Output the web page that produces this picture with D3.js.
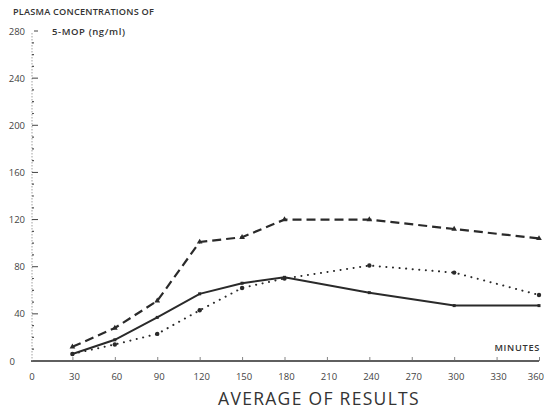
<!DOCTYPE html>
<html><head><meta charset="utf-8">
<script src="https://cdn.jsdelivr.net/npm/d3@7"></script>
<style>body{margin:0;background:#fff}svg{display:block}</style>
</head><body>
<svg id="c" width="544" height="410"></svg>
<script>
const minutes = [30, 60, 90, 120, 150, 180, 240, 300, 360];
const dashedSeries = [12, 28, 51, 101, 105, 120, 120, 112, 104];
const solidSeries = [6, 18, 37, 57, 66, 71, 58, 47, 47];
const dottedSeries = [6, 14, 23, 43, 62, 70, 81, 75, 56];
const xTicks = [0, 30, 60, 90, 120, 150, 180, 210, 240, 270, 300, 330, 360];
const yTicks = [0, 40, 80, 120, 160, 200, 240, 280];
const yMinorTicks = d3.range(0, 281, 10);

const svg = d3.select("#c");
const x = d3.scaleLinear().domain([0, 360]).range([30, 539]);
const y = d3.scaleLinear().domain([0, 280]).range([361, 31]);
const ink = "#2a2a2a";
const font = "'Open Sans', sans-serif";

// x axis
const xAxis = svg.append("g").attr("transform", `translate(0,${y(0)})`)
  .call(d3.axisTop(x).tickValues(xTicks).tickSize(4).tickFormat(""));
xAxis.select(".domain").attr("stroke", ink).attr("stroke-width", 1.6).attr("d", `M${x(0)+1},0H${x(360)}`);
xAxis.selectAll(".tick line").attr("stroke", "#666").attr("stroke-width", 0.8);
xAxis.selectAll(".tick").filter(d => d === 0).remove();
svg.append("g").selectAll("text").data(xTicks).join("text")
  .attr("x", d => d === 360 ? 544 : x(d) + 2).attr("y", 380)
  .attr("text-anchor", d => d === 360 ? "end" : "middle").attr("font-family", font).attr("font-size", 9.5)
  .attr("fill", "#444").text(d => d);

// y axis
const yAxisX = x(0) + 2;
svg.append("line").attr("x1", yAxisX).attr("x2", yAxisX).attr("y1", y(280) + 2).attr("y2", y(0))
  .attr("stroke", "#888").attr("stroke-width", 0.8).attr("stroke-dasharray", "1.5,1.5");
svg.append("g").selectAll("line").data(yMinorTicks.filter(d => d % 40 !== 0)).join("line")
  .attr("x1", yAxisX).attr("x2", yAxisX + 2).attr("y1", d => y(d)).attr("y2", d => y(d))
  .attr("stroke", "#555").attr("stroke-width", 1.2);
svg.append("g").selectAll("line").data(yTicks.filter(d => d > 0)).join("line")
  .attr("x1", d => d === 280 ? yAxisX + 2 : yAxisX).attr("x2", yAxisX + 6).attr("y1", d => y(d)).attr("y2", d => y(d))
  .attr("stroke", "#444").attr("stroke-width", 1);
svg.append("g").selectAll("text").data(yTicks).join("text")
  .attr("x", d => d === 0 ? 15 : 25).attr("y", d => y(d) + 3.5)
  .attr("text-anchor", "end").attr("font-family", font).attr("font-size", 9.5)
  .attr("fill", "#444").text(d => d);

// titles
svg.append("text").attr("x", 13).attr("y", 15).attr("font-family", font).attr("font-size", 9.2)
  .attr("font-weight", 600).attr("letter-spacing", 0.2).attr("fill", "#333").text("PLASMA CONCENTRATIONS OF");
svg.append("text").attr("x", 52).attr("y", 35).attr("font-family", font).attr("font-size", 9.5)
  .attr("font-weight", 600).attr("letter-spacing", 0.6).attr("fill", "#333").text("5-MOP (ng/ml)");
svg.append("text").attr("x", 540).attr("y", 351).attr("text-anchor", "end").attr("font-family", font)
  .attr("font-size", 9.2).attr("font-weight", 600).attr("letter-spacing", 0.7).attr("fill", "#333").text("MINUTES");
svg.append("text").attr("x", 319).attr("y", 405).attr("text-anchor", "middle").attr("font-family", font)
  .attr("font-size", 17.5).attr("letter-spacing", 1.3).attr("fill", "#333").text("AVERAGE OF RESULTS");

// lines
const line = vals => d3.line().x((d, i) => x(minutes[i])).y(d => y(d))(vals);
svg.append("path").attr("d", line(dashedSeries)).attr("fill", "none").attr("stroke", ink)
  .attr("stroke-width", 2.2).attr("stroke-dasharray", "9,5");
svg.append("path").attr("d", line(solidSeries)).attr("fill", "none").attr("stroke", ink)
  .attr("stroke-width", 2);
svg.append("path").attr("d", line(dottedSeries)).attr("fill", "none").attr("stroke", ink)
  .attr("stroke-width", 2).attr("stroke-linecap", "round").attr("stroke-dasharray", "0.1,6.5");

// markers
const tri = d3.symbol().type(d3.symbolTriangle).size(14);
svg.append("g").selectAll("path").data(dashedSeries).join("path")
  .attr("d", tri).attr("transform", (d, i) => `translate(${x(minutes[i])},${y(d)})`).attr("fill", ink);
svg.append("g").selectAll("circle").data(dottedSeries).join("circle")
  .attr("cx", (d, i) => x(minutes[i])).attr("cy", d => y(d)).attr("r", 2.2).attr("fill", ink);
svg.append("g").selectAll("rect").data(solidSeries).join("rect")
  .attr("x", (d, i) => x(minutes[i]) - 1.5).attr("y", d => y(d) - 1.5).attr("width", 3).attr("height", 3).attr("fill", ink);
</script>
</body></html>
